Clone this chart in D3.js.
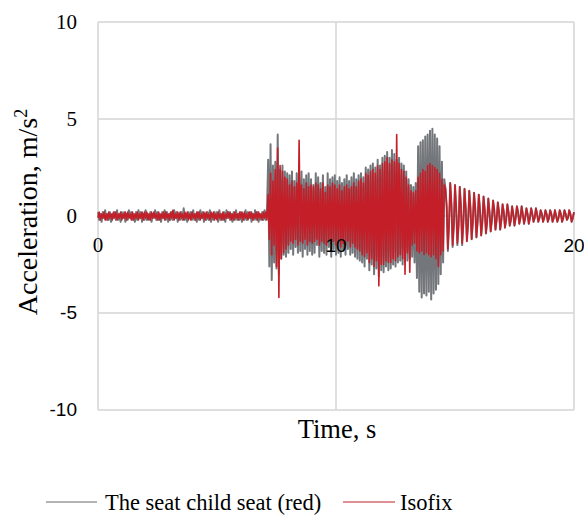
<!DOCTYPE html>
<html>
<head>
<meta charset="utf-8">
<script src="https://cdn.jsdelivr.net/npm/d3@7"></script>
<style>
  html, body { margin: 0; padding: 0; background: #fff; }
  svg { display: block; }
</style>
</head>
<body>
<svg id="chart" width="584" height="515"></svg>
<script>
// Acceleration record, sampled every 0.05 s from 0 to 20 s
const sampleStep = 0.05;

const seriesNames = ["The seat child seat (red)", "Isofix"];

const seatChildSeat = [
  // 0 – 7.1 s
  0.2,-0.2,0.1,-0.3,0.2,-0.1,0.3,-0.2,0.1,-0.2,0.2,-0.3,0.1,-0.1,0.2,-0.2,0.3,-0.2,0.1,-0.3,
  0.2,-0.1,0.2,-0.3,0.1,-0.2,0.3,-0.1,0.2,-0.2,0.1,-0.3,0.2,-0.2,0.3,-0.1,0.2,-0.3,0.1,-0.2,
  0.3,-0.2,0.1,-0.2,0.2,-0.3,0.1,-0.1,0.3,-0.2,0.2,-0.2,0.1,-0.3,0.2,-0.1,0.3,-0.2,0.2,-0.3,
  0.1,-0.2,0.2,-0.2,0.3,-0.1,0.2,-0.3,0.1,-0.2,0.2,-0.2,0.4,-0.2,0.1,-0.3,0.2,-0.1,0.2,-0.2,
  0.3,-0.2,0.1,-0.3,0.2,-0.2,0.3,-0.1,0.2,-0.3,0.1,-0.2,0.2,-0.2,0.3,-0.3,0.1,-0.2,0.2,-0.1,
  0.2,-0.3,0.3,-0.2,0.1,-0.2,0.2,-0.3,0.3,-0.1,0.2,-0.2,0.1,-0.3,0.2,-0.2,0.3,-0.2,0.1,-0.2,
  0.2,-0.3,0.1,-0.2,0.3,-0.2,0.2,-0.1,0.2,-0.3,0.1,-0.2,0.3,-0.2,0.2,-0.3,0.1,-0.2,0.2,-0.2,
  0.3,-0.2,0.2,
  // 7.15 – 7.95 s
  2.9,-2.6,3.7,-3.3,2.6,-2.4,2.8,-2.7,4.2,-3.0,2.4,-2.2,2.6,-2.0,2.3,-2.1,2.2,
  // 8 – 9 s
  -1.9,2.1,-1.7,2.3,-2.0,1.8,-1.6,2.2,-1.9,2.0,-1.8,2.3,-2.1,1.9,-1.7,2.1,-2.0,2.2,-1.8,1.9,
  // 9 – 10 s
  -2.0,1.6,-1.9,2.2,-1.5,2.0,-2.1,1.7,-1.8,2.1,-1.9,1.5,-2.0,2.2,-1.6,1.9,-2.1,2.0,-1.7,2.1,
  // 10 – 11 s
  -2.0,1.8,-1.9,2.0,-2.1,1.7,-1.8,1.9,-2.0,2.1,-1.7,1.8,-2.0,2.0,-1.9,2.2,-2.1,1.9,-2.2,2.1,
  // 11 – 12 s
  -2.3,2.2,-2.4,2.0,-2.6,2.5,-2.2,2.4,-2.8,2.6,-2.5,2.7,-3.0,2.5,-2.7,2.9,-3.1,2.6,-2.8,3.0,
  // 12 – 13 s
  -2.9,3.1,-2.6,3.3,-2.8,3.0,-2.7,3.4,-2.5,3.2,-2.6,2.9,-2.4,3.0,-2.3,2.7,-2.5,2.6,-2.2,2.3,
  // 13 – 14 s
  -2.3,1.9,-2.2,1.6,-2.1,1.5,-2.4,1.7,-3.2,3.6,-3.9,3.8,-4.2,3.9,-4.0,4.1,-4.1,4.2,-3.9,4.4,
  // 14 – 14.55 s
  -4.3,4.5,-4.0,4.2,-3.8,4.0,-3.5,3.6,-3.0,2.8,-2.4,1.9,
  // 14.6 – 20 s
  1.4,0.5,-1.8,-0.4,1.7,0.6,-1.6,-0.5,
  1.6,0.4,-1.5,-0.5,1.5,0.5,-1.5,-0.4,1.4,0.4,
  -1.3,-0.4,1.3,0.4,-1.2,-0.3,1.2,0.4,-1.1,-0.3,
  1.1,0.3,-1.0,-0.3,1.0,0.3,-0.9,-0.3,0.9,0.2,
  -0.8,-0.2,0.8,0.3,-0.7,-0.2,0.7,0.2,-0.7,-0.2,
  0.6,0.2,-0.6,-0.2,0.6,0.2,-0.5,-0.2,0.5,0.1,
  -0.5,-0.1,0.5,0.2,-0.4,-0.1,0.5,0.1,-0.4,-0.1,
  0.4,0.1,-0.4,-0.1,0.4,0.1,-0.3,-0.1,0.4,0.1,
  -0.3,-0.1,0.3,0.1,-0.3,-0.1,0.3,0.1,-0.3,-0.1,
  0.3,0.1,-0.3,-0.1,0.3,0.0,-0.3,-0.1,0.3,0.1,
  -0.3,-0.1,0.3,0.1,-0.2,-0.1,0.3,0.1,-0.3,-0.1,0.2
];

const isofix = [
  // 0 – 7.1 s
  -0.1,0.2,-0.2,0.1,-0.1,0.2,-0.2,0.1,-0.2,0.2,-0.1,0.1,-0.2,0.2,-0.1,0.2,-0.2,0.1,-0.1,0.2,
  -0.2,0.1,-0.1,0.2,-0.2,0.2,-0.1,0.1,-0.2,0.2,-0.2,0.1,-0.1,0.2,-0.2,0.1,-0.1,0.2,-0.2,0.2,
  -0.1,0.2,-0.2,0.1,-0.2,0.2,-0.1,0.2,-0.1,0.1,-0.2,0.2,-0.2,0.1,-0.1,0.2,-0.2,0.2,-0.1,0.1,
  -0.2,0.2,-0.1,0.3,-0.2,0.1,-0.1,0.2,-0.2,0.2,-0.1,0.1,-0.2,0.2,-0.1,0.2,-0.2,0.1,-0.2,0.2,
  -0.1,0.1,-0.2,0.2,-0.1,0.2,-0.2,0.1,-0.1,0.2,-0.2,0.2,-0.1,0.1,-0.2,0.2,-0.1,0.2,-0.2,0.1,
  -0.2,0.2,-0.1,0.1,-0.2,0.2,-0.2,0.1,-0.1,0.2,-0.1,0.2,-0.2,0.1,-0.2,0.2,-0.1,0.1,-0.2,0.2,
  -0.1,0.2,-0.2,0.2,-0.1,0.1,-0.2,0.2,-0.1,0.2,-0.2,0.1,-0.1,0.2,-0.2,0.2,-0.1,0.1,-0.2,0.2,
  -0.1,0.2,-0.2,
  // 7.15 – 7.95 s
  1.1,-1.2,2.2,-2.0,1.8,-1.5,2.4,-2.6,3.5,-4.2,2.6,-2.2,2.3,-1.9,2.0,-1.7,1.9,
  // 8 – 9 s
  -1.5,1.6,-1.3,1.8,-1.4,1.5,-1.2,1.7,-1.5,3.9,-1.3,1.6,-1.4,1.4,-1.2,1.7,-1.5,1.5,-1.3,1.6,
  // 9 – 10 s
  -1.4,1.5,-1.3,1.7,-1.2,1.6,-1.5,1.4,-1.3,1.7,-1.4,1.2,-1.5,1.6,-1.2,1.5,-1.4,1.7,-1.3,1.6,
  // 10 – 11 s
  -1.5,1.4,-1.3,1.6,-1.6,1.3,-1.4,1.5,-1.5,1.6,-1.3,1.4,-1.6,1.5,-1.4,1.7,-1.6,1.5,-1.7,1.8,
  // 11 – 12 s
  -1.8,1.9,-2.0,1.7,-2.1,2.2,-1.9,2.1,-2.4,2.3,-2.2,2.4,-2.6,2.2,-2.3,2.6,-3.6,2.4,-2.5,2.7,
  // 12 – 13 s
  -2.5,2.8,-2.3,3.0,-2.4,2.7,-2.4,2.9,-2.2,2.8,-2.3,4.2,-2.1,2.7,-2.0,2.4,-2.2,2.3,-3.0,2.0,
  // 13 – 14 s
  -1.9,1.6,-2.9,1.3,-1.5,1.2,-1.4,1.3,-1.8,2.0,-1.9,2.2,-1.8,2.4,-2.0,2.3,-1.9,2.6,-2.0,2.7,
  // 14 – 14.55 s
  -2.1,2.6,-2.0,2.5,-2.2,2.4,-2.6,2.2,-2.0,1.9,-1.8,1.6,
  // 14.6 – 20 s
  1.4,0.5,-1.7,-0.4,1.7,0.6,-1.5,-0.5,
  1.6,0.4,-1.4,-0.5,1.5,0.5,-1.4,-0.4,1.4,0.4,
  -1.3,-0.4,1.3,0.4,-1.2,-0.3,1.2,0.4,-1.1,-0.3,
  1.1,0.3,-1.0,-0.3,1.0,0.3,-0.9,-0.3,0.9,0.2,
  -0.8,-0.2,0.8,0.3,-0.7,-0.2,0.7,0.2,-0.7,-0.2,
  0.6,0.2,-0.6,-0.2,0.6,0.2,-0.5,-0.2,0.5,0.1,
  -0.5,-0.1,0.5,0.2,-0.4,-0.1,0.5,0.1,-0.4,-0.1,
  0.4,0.1,-0.4,-0.1,0.4,0.1,-0.3,-0.1,0.4,0.1,
  -0.3,-0.1,0.3,0.1,-0.3,-0.1,0.3,0.1,-0.3,-0.1,
  0.3,0.1,-0.3,-0.1,0.3,0.0,-0.3,-0.1,0.3,0.1,
  -0.3,-0.1,0.3,0.1,-0.2,-0.1,0.3,0.1,-0.3,-0.1,0.2
];

const xTicks = [0, 10, 20];
const yTicks = [-10, -5, 0, 5, 10];
const xTitle = "Time, s";
const yTitle = "Acceleration, m/s";
const yTitleSup = "2";

const serif = "'Liberation Serif', 'Times New Roman', serif";
const sans = "'Liberation Sans', Arial, sans-serif";

const svg = d3.select("#chart");

const x = d3.scaleLinear().domain([0, 20]).range([98, 574]);
const y = d3.scaleLinear().domain([-10, 10]).range([410, 22]);

// grid
const grid = svg.append("g")
  .attr("stroke", "#d4d4d4")
  .attr("stroke-width", 1.5)
  .attr("fill", "none");
grid.selectAll("line.h").data(yTicks).join("line")
  .attr("class", "h")
  .attr("x1", x(0)).attr("x2", x(20))
  .attr("y1", d => y(d)).attr("y2", d => y(d));
grid.selectAll("line.v").data(xTicks).join("line")
  .attr("class", "v")
  .attr("x1", d => x(d)).attr("x2", d => x(d))
  .attr("y1", y(-10)).attr("y2", y(10));

// series
const line = d3.line()
  .x((d, i) => x(i * sampleStep))
  .y(d => y(d));

svg.append("path")
  .datum(seatChildSeat)
  .attr("d", line)
  .attr("fill", "none")
  .attr("stroke", "#73777b")
  .attr("stroke-width", 2)
  .attr("stroke-linejoin", "round");

svg.append("path")
  .datum(isofix)
  .attr("d", line)
  .attr("fill", "none")
  .attr("stroke", "#c41e28")
  .attr("stroke-width", 1.6)
  .attr("stroke-linejoin", "round");

// y tick labels
svg.append("g").selectAll("text").data(yTicks).join("text")
  .attr("x", 77)
  .attr("y", d => y(d))
  .attr("dy", "0.34em")
  .attr("text-anchor", "end")
  .attr("font-family", d => d < 0 ? sans : serif)
  .attr("font-size", d => d < 0 ? 19 : 21)
  .attr("fill", "#000")
  .text(d => d);

// x tick labels sit just under the zero line
svg.append("g").selectAll("text").data(xTicks).join("text")
  .attr("x", d => x(d))
  .attr("y", 252)
  .attr("text-anchor", "middle")
  .attr("font-family", d => d === 0 ? serif : sans)
  .attr("font-size", d => d === 0 ? 21 : 19)
  .attr("fill", "#000")
  .text(d => d);

// axis titles
svg.append("text")
  .attr("x", 337)
  .attr("y", 438)
  .attr("text-anchor", "middle")
  .attr("font-family", serif)
  .attr("font-size", 26.5)
  .text(xTitle);

const yt = svg.append("text")
  .attr("transform", "translate(37,212) rotate(-90)")
  .attr("text-anchor", "middle")
  .attr("font-family", serif)
  .attr("font-size", 28);
yt.append("tspan").text(yTitle);
yt.append("tspan").attr("dy", -10).attr("font-size", 18).text(yTitleSup);

// legend
const legend = [
  { name: seriesNames[0], color: "#9a9a9a", x1: 46, x2: 97, tx: 105 },
  { name: seriesNames[1], color: "#d46a6e", x1: 343, x2: 395, tx: 400 }
];
const lg = svg.append("g");
lg.selectAll("line").data(legend).join("line")
  .attr("x1", d => d.x1).attr("x2", d => d.x2)
  .attr("y1", 502).attr("y2", 502)
  .attr("stroke", d => d.color)
  .attr("stroke-width", 1.5);
lg.selectAll("text").data(legend).join("text")
  .attr("x", d => d.tx)
  .attr("y", 510)
  .attr("font-family", serif)
  .attr("font-size", 22.5)
  .text(d => d.name);
</script>
</body>
</html>
